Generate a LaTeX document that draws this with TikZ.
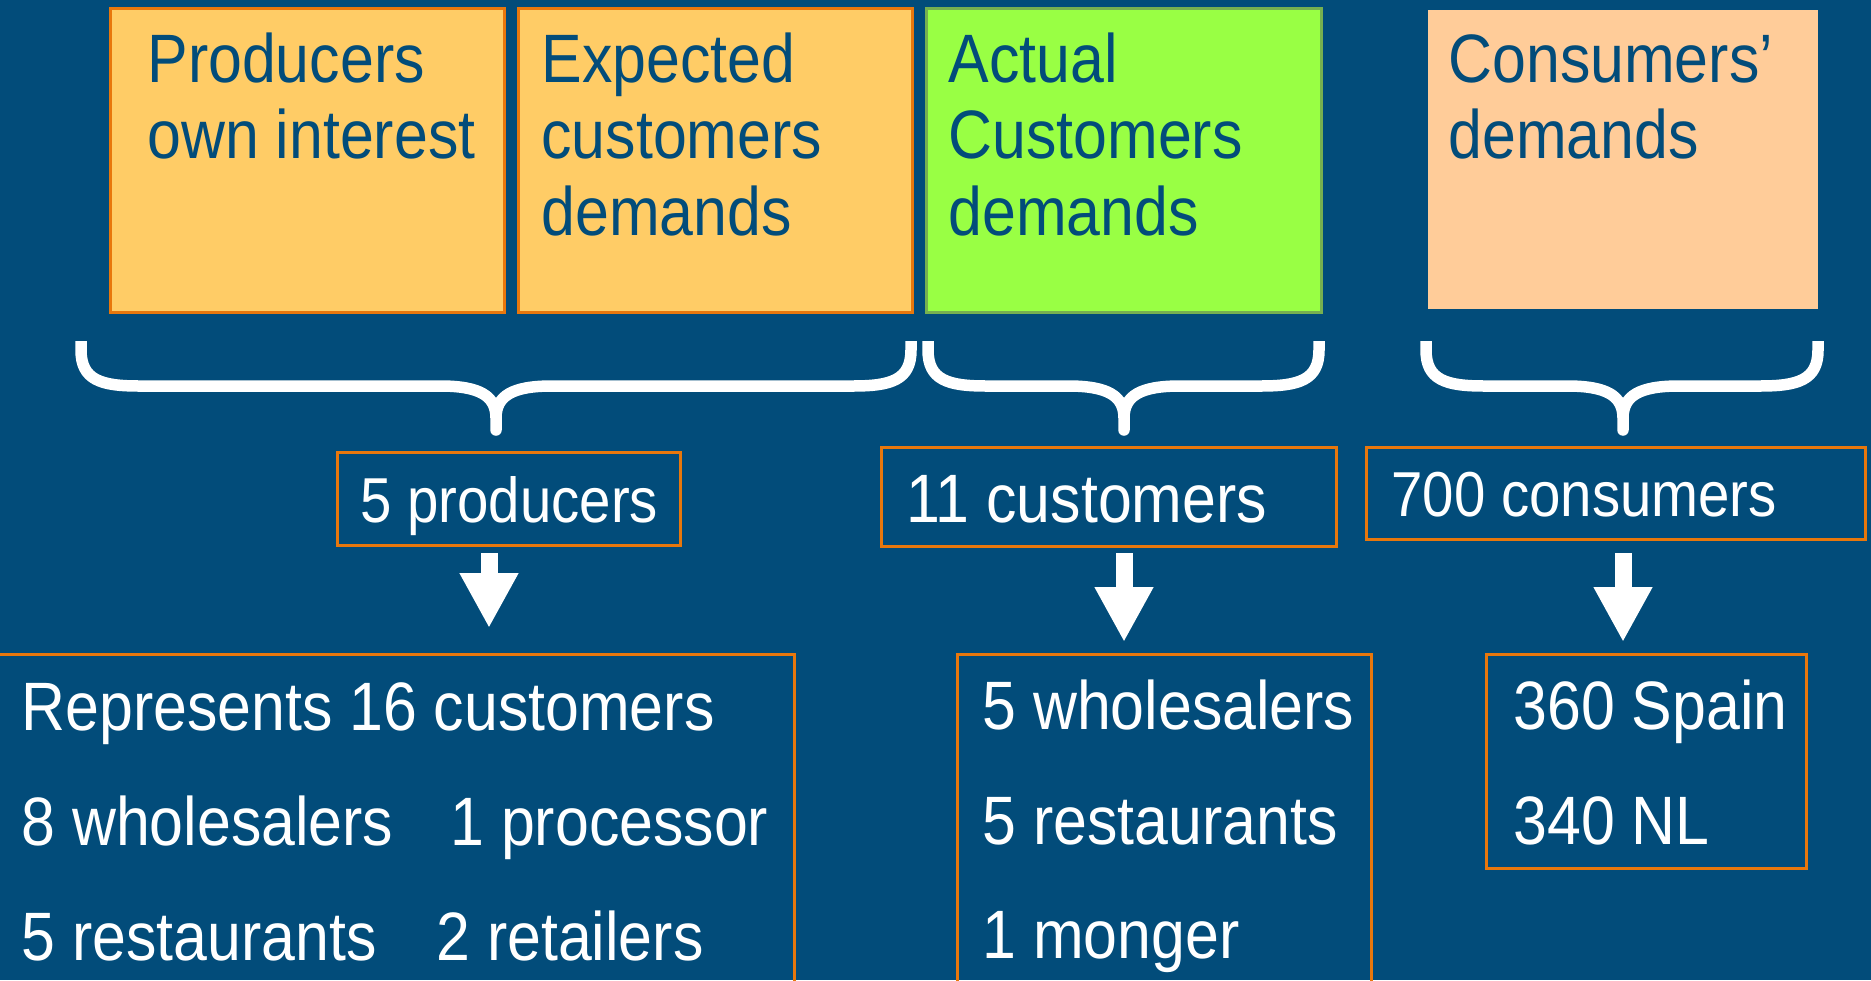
\documentclass[tikz,border=0pt]{standalone}
\usepackage{fontspec}
\setmainfont{Liberation Sans}[FakeStretch=0.888]
\usetikzlibrary{arrows.meta,fit}

\definecolor{bg}{HTML}{024C7A}
\definecolor{ink}{HTML}{024C7A}
\definecolor{amber}{HTML}{FFCC66}
\definecolor{rim}{HTML}{E8770C}
\definecolor{lime}{HTML}{99FF44}
\definecolor{limerim}{HTML}{77B050}
\definecolor{peach}{HTML}{FFCC99}

\tikzset{
  box/.style={inner sep=0pt, line width=1.2pt},
  topbox/.style={box, fill=amber, draw=rim},
  greenbox/.style={box, fill=lime, draw=limerim},
  peachbox/.style={box, fill=peach},
  framebox/.style={box, draw=rim},
  toptext/.style={inner sep=0pt, anchor=base west, text=ink,
    font=\fontsize{27.4pt}{30.6pt}\selectfont},
  lowtext/.style={inner sep=0pt, anchor=base west, text=white,
    font=\fontsize{27.4pt}{46pt}\selectfont},
  smalltext/.style={lowtext, font=\fontsize{25.4pt}{30pt}\selectfont},
  bracestroke/.style={draw=white, line width=4.6pt, line cap=butt, line join=round},
  fatarrow/.style={draw=white, fill=white, line width=6.8pt,
    -{Triangle[width=22pt, length=22pt]}}
}

% curly brace: left end, tip, right end (x values)
\newcommand\curlybrace[3]{%
  \draw[bracestroke] (#1,341) -- (#1,350)
    .. controls (#1,380) and ({#1+20},386) .. ({#1+58},386)
    -- ({#2-56},386)
    .. controls ({#2-16},386) and (#2,396) .. (#2,418) -- (#2,430) -- (#2,418)
    .. controls (#2,396) and ({#2+16},386) .. ({#2+56},386)
    -- ({#3-58},386)
    .. controls ({#3-20},386) and (#3,380) .. (#3,350) -- (#3,341);}

\begin{document}
\begin{tikzpicture}[x=0.4pt, y=-0.4pt]
  \useasboundingbox (0,0) rectangle (1871,980);
  \clip (0,0) rectangle (1871,980);
  \fill[bg] (0,0) rectangle (1871,980);

  % top row of demand boxes
  \node[topbox,   fit={(110,8)(504,312)}]   (own)  {};
  \node[topbox,   fit={(518,8)(912,312)}]   (exp)  {};
  \node[greenbox, fit={(926,8)(1321,312)}]  (act)  {};
  \node[peachbox, fit={(1428,10)(1818,309)}] (cdem) {};

  \node[toptext] (own1) at (147,82)    {Producers};
  \node[toptext] (own2) at (147,158.5) {own interest};
  \node[toptext] (exp1) at (541,82)    {Expected};
  \node[toptext] (exp2) at (541,158.5) {customers};
  \node[toptext] (exp3) at (541,235)   {demands};
  \node[toptext] (act1) at (948,82)    {Actual};
  \node[toptext] (act2) at (948,158.5) {Customers};
  \node[toptext] (act3) at (948,235)   {demands};
  \node[toptext] (cdm1) at (1448,82)   {Consumers’};
  \node[toptext] (cdm2) at (1448,158.5){demands};

  % braces grouping the boxes
  \curlybrace{81}{496}{911}
  \curlybrace{928}{1124}{1319}
  \curlybrace{1426}{1623}{1818}

  % counts
  \node[framebox, fit={(337,452)(680,545)}]  (prod) {};
  \node[framebox, fit={(881,447)(1336,546)}] (cust) {};
  \node[framebox, fit={(1366,447)(1865,539)}] (cons) {};
  \node[smalltext] (prodT) at (360,522)  {5 producers};
  \node[lowtext]   (custT) at (906,522)  {11 customers};
  \node[smalltext] (consT) at (1391,516) {700 consumers};

  % breakdown boxes
  \node[framebox, fit={(-10,654)(794,1000)}]  (prodList) {};
  \node[framebox, fit={(957,654)(1371,1000)}] (custList) {};
  \node[framebox, fit={(1486,654)(1806,868)}] (consList) {};

  \node[lowtext] (rep)  at (21,730)  {Represents 16 customers};
  \node[lowtext] (pw)   at (21,845)  {8 wholesalers};
  \node[lowtext] (pp)   at (450,845) {1 processor};
  \node[lowtext] (pr)   at (21,960)  {5 restaurants};
  \node[lowtext] (pt)   at (436,960) {2 retailers};

  \node[lowtext] (cw)   at (982,729) {5 wholesalers};
  \node[lowtext] (cr)   at (982,844) {5 restaurants};
  \node[lowtext] (cm)   at (982,958) {1 monger};

  \node[lowtext] (es)   at (1513,729) {360 Spain};
  \node[lowtext] (nl)   at (1513,844) {340 NL};

  % arrows
  \coordinate (a1s) at (489,553);  \coordinate (a1e) at (489,628);
  \coordinate (a2s) at (1124,553); \coordinate (a2e) at (1124,642);
  \coordinate (a3s) at (1623,553); \coordinate (a3e) at (1623,642);
  \draw[fatarrow] (a1s) -- (a1e);
  \draw[fatarrow] (a2s) -- (a2e);
  \draw[fatarrow] (a3s) -- (a3e);
\end{tikzpicture}
\end{document}
